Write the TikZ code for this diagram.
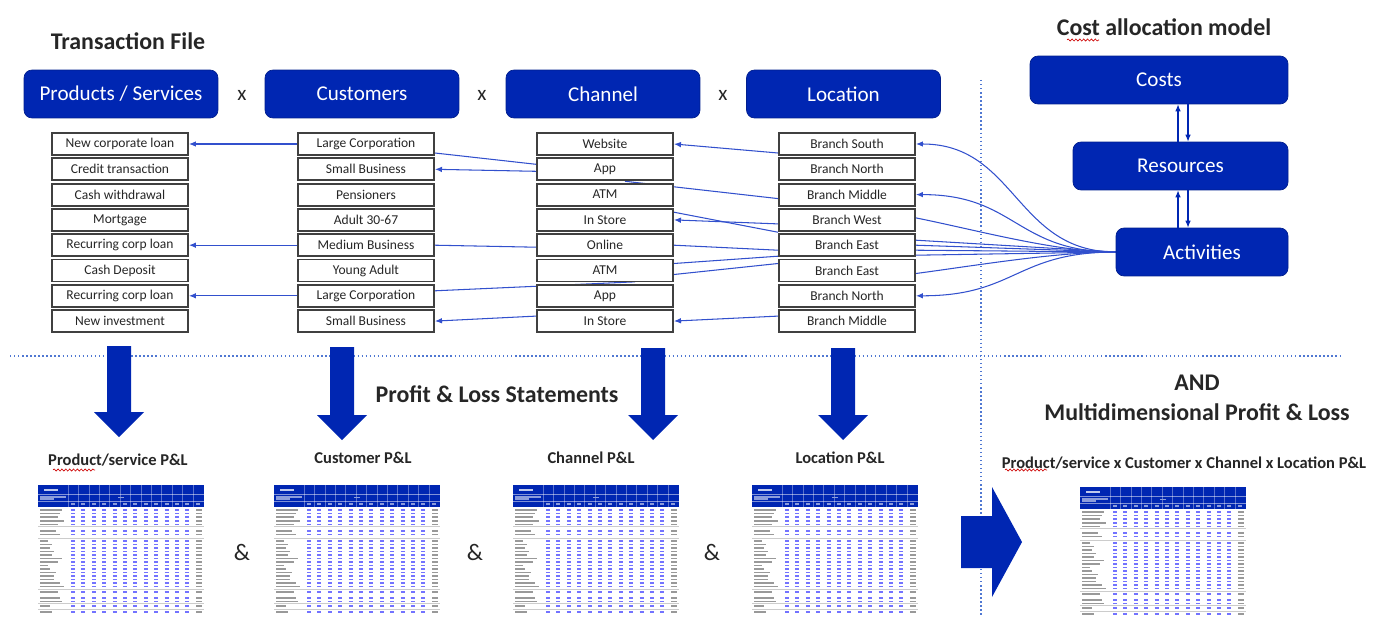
\documentclass[tikz,border=0pt]{standalone}
\usepackage{fontspec}
\setmainfont{Carlito}
\usepackage{tikz}
\usetikzlibrary{positioning,calc,arrows.meta,backgrounds,decorations.pathmorphing}

\definecolor{hdrblue}{RGB}{0,38,178}
\definecolor{linkblue}{RGB}{50,80,205}
\definecolor{dotblue}{RGB}{80,120,210}
\definecolor{boxgrey}{RGB}{64,64,64}
\definecolor{txtgrey}{RGB}{38,38,38}

\newcommand{\pltable}[2]{%
  \begin{scope}[shift={(#1,#2)}]
    \fill[hdrblue] (0,0) rectangle (166,22);
    \foreach \c in {0,...,12} \draw[white, opacity=.35, line width=.3pt] (30+\c*10.4,0) -- (30+\c*10.4,22);
    \draw[white, opacity=.5, line width=.3pt] (0,9) -- (166,9) (0,16) -- (166,16);
    \draw[white!75!hdrblue, line width=1.4pt] (6,5) -- (20,5);
    \draw[white!55!hdrblue, line width=.8pt] (2,12) -- (28,12) (2,14) -- (16,14) (80,12.5) -- (86,12.5);
    \foreach \c in {0,...,12} \draw[white!55!hdrblue, line width=.8pt] (33+\c*10.4,19) -- (37+\c*10.4,19);
    \foreach \r/\l in {25/24, 28.5/22, 32/20, 36/26, 39.5/20, 46/18, 49.5/22, 56/10, 59.5/14, 63/12, 66.5/16, 70/14, 73.5/24, 77/20, 80.5/10, 84/12, 87.5/18, 91/16, 94.5/16, 98/22, 101.5/26, 107/20, 113/22, 116.5/24, 121/12, 127/14} {
      \draw[plgrey] (2,\r) -- (\l,\r);
      \foreach \c in {0,...,11} \draw[plval] (33+\c*10.4,\r) -- (37+\c*10.4,\r);
      \draw[plgrey] (158,\r) -- (164,\r);
    }
    \foreach \r in {41,53,104,118,124} \draw[black!20, line width=.3pt] (0,\r) -- (166,\r);
  \end{scope}}

\newcommand{\bigdown}[3]{%
  \fill[hdrblue] (#1-12,#2) -- (#1+12,#2) -- (#1+12,#3-25) -- (#1+25,#3-25) -- (#1,#3) -- (#1-25,#3-25) -- (#1-12,#3-25) -- cycle;}

\begin{document}
\begin{tikzpicture}[x=0.02cm, y=-0.02cm,
  hdr/.style={draw=hdrblue!80!black, fill=hdrblue, rounded corners=0.16cm, text=white, font=\fontsize{12}{14}\selectfont, minimum width=3.88cm, minimum height=0.96cm, inner sep=0},
  cost/.style={hdr},
  item/.style={draw=boxgrey, line width=1.1pt, fill=white, minimum width=2.72cm, minimum height=0.44cm, inner sep=0, font=\fontsize{7.7}{9}\selectfont, text=black!85},
  title/.style={font=\bfseries\fontsize{13.6}{16}\selectfont, text=txtgrey},
  pllabel/.style={font=\bfseries\fontsize{9.4}{11}\selectfont, text=txtgrey},
  times/.style={font=\fontsize{12}{14}\selectfont, text=txtgrey},
  amp/.style={font=\fontsize{13.5}{16}\selectfont, text=txtgrey},
  link/.style={draw=linkblue, line width=0.6pt},
  arr/.style={link, {Latex[length=4pt,width=3.2pt]}-},
  sep/.style={draw=dotblue, line width=0.8pt, dash pattern=on 0.8pt off 1.5pt},
  squig/.style={draw=red!80!black, line width=0.35pt, decorate, decoration={snake, segment length=2.2pt, amplitude=0.6pt}},
  plgrey/.style={black!40, line width=0.8pt},
  plval/.style={blue!55, line width=0.8pt}]
\useasboundingbox (0,0) rectangle (1381,625);

\node[title] (trans) at (128,41) {Transaction File};
\node[title] (costmodel) at (1164,27) {Cost allocation model};

\node[hdr] (prodhdr) at (121,94) {Products / Services};
\node[hdr] (custhdr) at (362,94) {Customers};
\node[hdr] (chanhdr) at (603,94) {Channel};
\node[hdr] (lochdr) at (843.5,94) {Location};
\node[times] (x1) at (242,95) {x};
\node[times] (x2) at (482,95) {x};
\node[times] (x3) at (723,95) {x};

\foreach \t [count=\i] in {New corporate loan, Credit transaction, Cash withdrawal, Mortgage, Recurring corp loan, Cash Deposit, Recurring corp loan, New investment}
  \node[item] (prod\i) at (120,{144+(\i-1)*25.3}) {\t};
\foreach \t [count=\i] in {Large Corporation, Small Business, Pensioners, Adult 30-67, Medium Business, Young Adult, Large Corporation, Small Business}
  \node[item] (cust\i) at (366,{144+(\i-1)*25.3}) {\t};
\foreach \t [count=\i] in {Website, App, ATM, In Store, Online, ATM, App, In Store}
  \node[item] (chan\i) at (605,{144+(\i-1)*25.3}) {\t};
\foreach \t [count=\i] in {Branch South, Branch North, Branch Middle, Branch West, Branch East, Branch East, Branch North, Branch Middle}
  \node[item] (loc\i) at (847,{144+(\i-1)*25.3}) {\t};

\node[cost, minimum width=5.16cm] (costs) at (1159,80) {Costs};
\node[cost, minimum width=4.3cm] (res) at (1180.5,166) {Resources};
\node[cost, minimum width=3.44cm] (acts) at (1202,252) {Activities};
\coordinate (upA) at (1178,0);
\coordinate (dnA) at (1188,0);
\draw[link, draw=hdrblue, -{Latex[length=4pt,width=3.2pt]}] (upA |- res.north) -- (upA |- costs.south);
\draw[link, draw=hdrblue, -{Latex[length=4pt,width=3.2pt]}] (dnA |- costs.south) -- (dnA |- res.north);
\draw[link, draw=hdrblue, -{Latex[length=4pt,width=3.2pt]}] (upA |- acts.north) -- (upA |- res.south);
\draw[link, draw=hdrblue, -{Latex[length=4pt,width=3.2pt]}] (dnA |- res.south) -- (dnA |- acts.north);

\begin{scope}[on background layer]
  \draw[arr] (prod1.east) -- (cust1.west);
  \draw[arr] (prod5.east) -- (cust5.west);
  \draw[arr] (prod7.east) -- (cust7.west);
  \draw[arr] (cust2.east) -- ($(chan2.west)+(0,2)$);
  \draw[link] ($(cust1.east)+(0,9)$) -- ($(chan2.west)+(0,-5)$);
  \draw[link] (cust5.east) -- ($(chan5.west)+(0,2)$);
  \draw[link] ($(cust7.east)+(0,-5)$) -- ($(chan7.north)+(30,-2)$);
  \draw[arr] (cust8.east) -- ($(chan8.west)+(0,-5)$);
  \draw[arr] (chan1.east) -- ($(loc1.west)+(0,9)$);
  \draw[link] ($(chan2.south)+(20,0)$) -- ($(loc3.west)+(0,4)$);
  \draw[link] ($(chan3.south)+(50,2)$) -- ($(loc5.north west)+(0,-1)$);
  \draw[arr] (chan4.east) -- ($(loc4.west)+(0,4)$);
  \draw[link] (chan5.east) -- ($(loc5.west)+(0,5)$);
  \draw[link] ($(chan6.east)+(0,-7)$) -- ($(loc5.west)+(0,11)$);
  \draw[link] ($(chan6.east)+(0,4)$) -- ($(loc6.west)+(0,-7)$);
  \draw[arr] (chan8.east) -- ($(loc8.west)+(0,-5)$);
  \draw[arr] (loc1.east) .. controls +(100,0) and +(-100,0) .. (acts.west);
  \draw[arr] (loc3.east) .. controls +(100,0) and +(-100,0) .. (acts.west);
  \draw[link] ($(loc4.east)+(0,-2)$) .. controls +(60,12) and +(-60,0) .. (acts.west);
  \foreach \dy in {-5,0,5,10} \draw[link] ($(loc5.east)+(0,\dy)$) -- (acts.west);
  \draw[link] ($(loc6.east)+(0,3)$) .. controls +(60,-8) and +(-60,0) .. (acts.west);
  \draw[arr] (loc7.east) .. controls +(100,0) and +(-100,0) .. (acts.west);
\end{scope}

\draw[sep] (10,356) -- (1342,356);
\draw[sep] (981,80) -- (981,615);

\bigdown{119}{346}{437}
\bigdown{342}{347}{440}
\bigdown{653}{348}{440}
\bigdown{843}{348}{440}

\node[title] (pls) at (497,394) {Profit \& Loss Statements};
\node[title] (andlbl) at (1197,383) {AND};
\node[title] (multi) at (1197,412) {Multidimensional Profit \& Loss};

\node[pllabel] (plprod) at (118,460) {Product/service P\&L};
\node[pllabel] (plcust) at (363,458) {Customer P\&L};
\node[pllabel] (plchan) at (591,458) {Channel P\&L};
\node[pllabel] (plloc) at (840,458) {Location P\&L};
\node[pllabel] (plall) at (1184,463) {Product/service x Customer x Channel x Location P\&L};

\pltable{38}{485}
\pltable{274}{485}
\pltable{513}{485}
\pltable{752}{485}
\pltable{1080}{487}

\node[amp] (amp1) at (242,552) {\&};
\node[amp] (amp2) at (475,552) {\&};
\node[amp] (amp3) at (712,552) {\&};

\fill[hdrblue] (961,516) -- (992,516) -- (992,487) -- (1022,542) -- (992,597) -- (992,568) -- (961,568) -- cycle;

\draw[squig] (1067,40) -- (1099,40);
\draw[squig] (53,470) -- (95,470);
\draw[squig] (1005,470) -- (1047,470);
\end{tikzpicture}
\end{document}
